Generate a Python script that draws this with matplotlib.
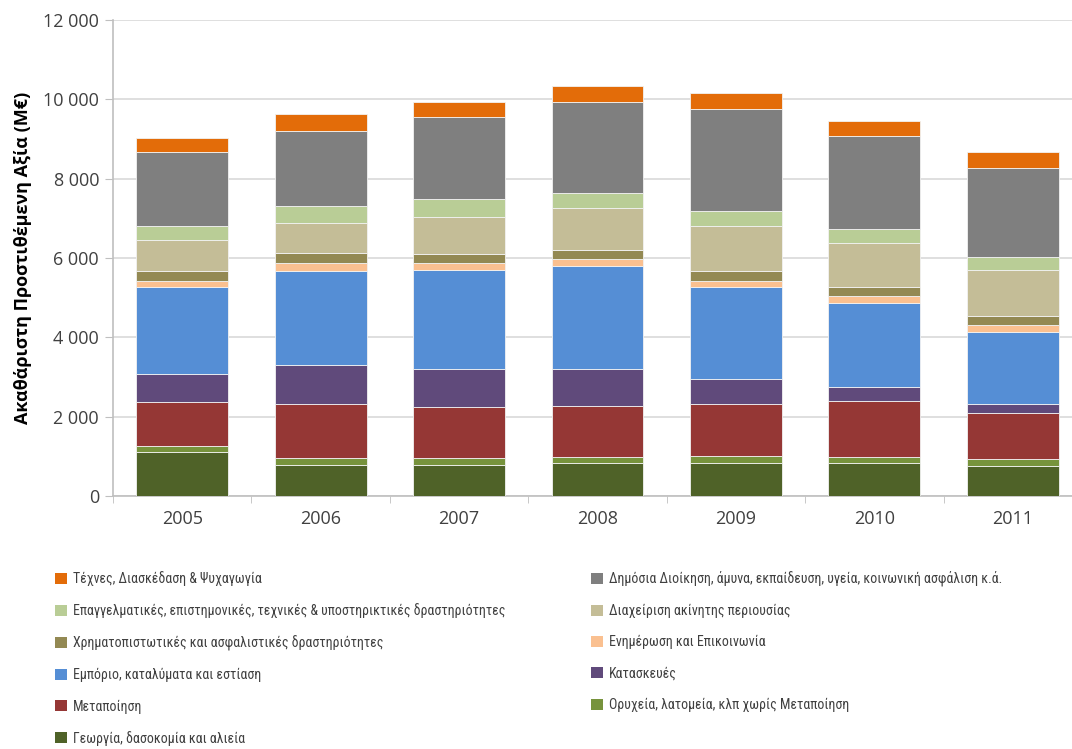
import numpy as np
import matplotlib
matplotlib.use('Agg')
import matplotlib.pyplot as plt
from matplotlib.patches import Patch

years = ['2005', '2006', '2007', '2008', '2009', '2010', '2011']

# sectors from bottom of stack to top
sectors = [
    'Γεωργία, δασοκομία και αλιεία',
    'Ορυχεία, λατομεία, κλπ χωρίς Μεταποίηση',
    'Μεταποίηση',
    'Κατασκευές',
    'Εμπόριο, καταλύματα και εστίαση',
    'Ενημέρωση και Επικοινωνία',
    'Χρηματοπιστωτικές και ασφαλιστικές δραστηριότητες',
    'Διαχείριση ακίνητης περιουσίας',
    'Επαγγελματικές, επιστημονικές, τεχνικές & υποστηρικτικές δραστηριότητες',
    'Δημόσια Διοίκηση, άμυνα, εκπαίδευση, υγεία, κοινωνική ασφάλιση κ.ά.',
    'Τέχνες, Διασκέδαση & Ψυχαγωγία',
]

agri = [1117, 781, 781, 824, 824, 824, 756]
mining = [144, 169, 169, 167, 192, 167, 177]
manuf = [1101, 1369, 1286, 1285, 1303, 1404, 1152]
constr = [721, 991, 966, 918, 623, 360, 227]
trade = [2194, 2370, 2495, 2612, 2319, 2103, 1830]
info = [143, 186, 185, 169, 167, 184, 169]
finance = [252, 252, 226, 227, 252, 235, 234]
real_estate = [782, 772, 933, 1066, 1134, 1093, 1152]
prof = [353, 421, 439, 378, 378, 369, 336]
public = [1858, 1898, 2082, 2279, 2564, 2344, 2228]
arts = [353, 414, 378, 411, 411, 378, 419]

series = [agri, mining, manuf, constr, trade, info, finance,
          real_estate, prof, public, arts]

colors = ['#4F6228', '#77933C', '#953735', '#604A7B', '#558ED5', '#FAC090',
          '#938953', '#C4BD97', '#B9CD96', '#7F7F7F', '#E36C09']

plt.rcParams['font.family'] = ['Open Sans', 'DejaVu Sans']

fig = plt.figure(figsize=(10.72, 7.49), dpi=100)
ax = fig.add_axes([113 / 1072, 1 - 496 / 749, 969 / 1072, 476 / 749])

x = np.arange(len(years))
bottom = np.zeros(len(years))
for vals, col in zip(series, colors):
    ax.bar(x, vals, width=0.664, bottom=bottom, color=col,
           edgecolor='#f2f2f2', linewidth=0.6, zorder=3)
    bottom += np.array(vals)

ax.set_xlim(-0.5, len(years) - 0.5)
ax.set_ylim(0, 12000)
ax.set_yticks(np.arange(0, 12001, 2000))
ax.set_yticklabels([f"{v:,}".replace(',', ' ') for v in range(0, 12001, 2000)],
                   fontsize=13, color='#404040')
ax.set_xticks(x)
ax.set_xticklabels(years, fontsize=13, color='#404040')
ax.set_xticks(np.arange(-0.5, len(years), 1), minor=True)
ax.tick_params(axis='x', which='major', length=0, pad=10)
ax.tick_params(axis='x', which='minor', length=5, color='#bfbfbf', direction='out')
ax.tick_params(axis='y', length=6, color='#bfbfbf', pad=4)

ax.grid(axis='y', color='#d9d9d9', linewidth=1.2, zorder=0)
for s in ['top', 'right']:
    ax.spines[s].set_visible(False)
ax.spines['left'].set_color('#bfbfbf')
ax.spines['bottom'].set_color('#bfbfbf')
ax.spines['left'].set_linewidth(1.2)
ax.spines['bottom'].set_linewidth(1.2)

ax.set_ylabel('Ακαθάριστη Προστιθέμενη Αξία (M€)', fontsize=13,
              fontweight='bold', labelpad=8)

# legend: two columns, row order as in the reference
handles = {s: Patch(facecolor=c) for s, c in zip(sectors, colors)}
left_col = [sectors[10], sectors[8], sectors[6], sectors[4], sectors[2], sectors[0]]
right_col = [sectors[9], sectors[7], sectors[5], sectors[3], sectors[1]]

leg_font = {'family': ['Roboto Condensed', 'Roboto', 'DejaVu Sans'], 'size': 10}
for col, xpos in [(left_col, 55 / 1072), (right_col, 591 / 1072)]:
    leg = fig.legend([handles[s] for s in col], col, loc='upper left',
                     bbox_to_anchor=(xpos, 1 - 571 / 749), frameon=False,
                     prop=leg_font, borderpad=0, borderaxespad=0,
                     handlelength=0.85, handleheight=0.85, handletextpad=0.45,
                     labelspacing=1.24)
    for t in leg.get_texts():
        t.set_color('#404040')

fig.savefig('out.png', dpi=100)
